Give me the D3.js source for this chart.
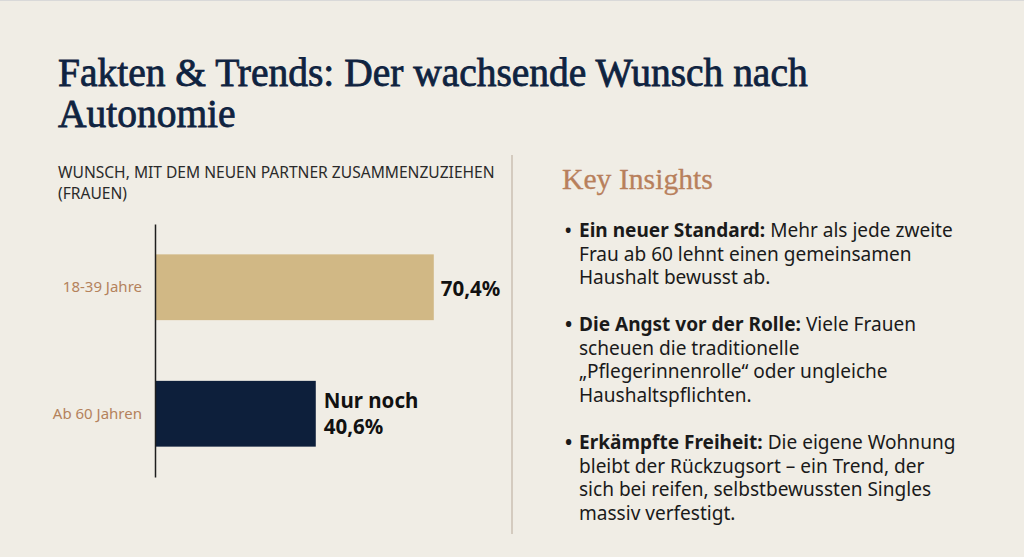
<!DOCTYPE html>
<html lang="de">
<head>
<meta charset="utf-8">
<script src="https://cdn.jsdelivr.net/npm/d3@7"></script>
<style>
  html, body { margin: 0; padding: 0; background: #f0ede5; }
  svg { display: block; }
</style>
</head>
<body>
<div id="chart"></div>
<script>
// data
var titleLines = ["Fakten & Trends: Der wachsende Wunsch nach", "Autonomie"];
var subtitleLines = ["WUNSCH, MIT DEM NEUEN PARTNER ZUSAMMENZUZIEHEN", "(FRAUEN)"];
var categories = ["18-39 Jahre", "Ab 60 Jahren"];
var values = [70.4, 40.6];
var valuePrefix = ["", "Nur noch"];
var barColors = ["#d1b885", "#0d1f3b"];
var insightsTitle = "Key Insights";
var insightHeads = ["Ein neuer Standard:", "Die Angst vor der Rolle:", "Erkämpfte Freiheit:"];
var insightLines = [
  ["Mehr als jede zweite", "Frau ab 60 lehnt einen gemeinsamen", "Haushalt bewusst ab."],
  ["Viele Frauen", "scheuen die traditionelle", "\u201EPflegerinnenrolle\u201C oder ungleiche", "Haushaltspflichten."],
  ["Die eigene Wohnung", "bleibt der R\u00FCckzugsort \u2013 ein Trend, der", "sich bei reifen, selbstbewussten Singles", "massiv verfestigt."]
];

var W = 1024, H = 557;
var serif = "'Liberation Serif', 'DejaVu Serif', serif";
var sans = "'Noto Sans', Lato, sans-serif";

var svg = d3.select("#chart").append("svg")
  .attr("width", W)
  .attr("height", H);

svg.append("rect").attr("width", W).attr("height", H).attr("fill", "#f0ede5");
svg.append("line").attr("x1", 0).attr("x2", W).attr("y1", 0.5).attr("y2", 0.5)
  .attr("stroke", "#d9d9d9").attr("stroke-width", 1);

// scale a text's font size so it spans a given width
function fit(sel, target) {
  var w = sel.node().getComputedTextLength();
  var fs = parseFloat(sel.attr("font-size"));
  sel.attr("font-size", fs * target / w);
  return fs * target / w;
}

// Title
var t1 = svg.append("text")
  .attr("x", 58).attr("y", 86)
  .attr("font-family", serif).attr("font-size", 38)
  .attr("fill", "#0f2340").attr("stroke", "#0f2340").attr("stroke-width", 0.8)
  .text(titleLines[0]);
var titleSize = fit(t1, 750);
svg.append("text")
  .attr("x", 58).attr("y", 127)
  .attr("font-family", serif).attr("font-size", titleSize)
  .attr("fill", "#0f2340").attr("stroke", "#0f2340").attr("stroke-width", 0.8)
  .text(titleLines[1]);

// Subtitle
var s1 = svg.append("text")
  .attr("x", 58).attr("y", 177.5)
  .attr("font-family", sans).attr("font-size", 14)
  .attr("fill", "#2a2a2a")
  .text(subtitleLines[0]);
var subSize = fit(s1, 437);
svg.append("text")
  .attr("x", 58).attr("y", 199)
  .attr("font-family", sans).attr("font-size", subSize)
  .attr("fill", "#2a2a2a")
  .text(subtitleLines[1]);

// Bar chart
var x0 = 155;
var x = d3.scaleLinear().domain([0, 100]).range([0, 396]);
var y = d3.scaleBand().domain(categories).range([224, 477])
  .paddingInner(0.48).paddingOuter(0.24);

var chartGroup = svg.append("g").attr("transform", `translate(${x0}, 0)`);

chartGroup.selectAll("rect.bar")
  .data(values)
  .enter()
  .append("rect")
  .attr("class", "bar")
  .attr("x", 1)
  .attr("y", (d, i) => y(categories[i]))
  .attr("width", d => x(d) - 1)
  .attr("height", y.bandwidth())
  .attr("fill", (d, i) => barColors[i]);

var leftAxis = d3.axisLeft(y).tickSize(0).tickSizeOuter(0).tickPadding(13);
var axisG = chartGroup.append("g").call(leftAxis);
axisG.select(".domain").attr("stroke", "#1e1e1e").attr("stroke-width", 1.5);
axisG.selectAll("text")
  .attr("font-family", sans).attr("font-size", 15)
  .attr("fill", "#b4825c");

// value labels
var labels = chartGroup.selectAll("text.val")
  .data(values)
  .enter()
  .append("text")
  .attr("class", "val")
  .attr("font-family", sans).attr("font-weight", 700).attr("font-size", 20.5)
  .attr("fill", "#111");

labels.each(function(d, i) {
  var el = d3.select(this);
  var cy = y(categories[i]) + y.bandwidth() / 2;
  var txt = d.toFixed(1).replace(".", ",") + "%";
  if (valuePrefix[i]) {
    el.append("tspan").attr("x", x(d) + 8).attr("y", cy - 6).text(valuePrefix[i]);
    el.append("tspan").attr("x", x(d) + 8).attr("y", cy + 20).text(txt);
  } else {
    el.attr("x", x(d) + 7).attr("y", cy + 9).text(txt);
  }
});

// divider
svg.append("line")
  .attr("x1", 512).attr("x2", 512).attr("y1", 155).attr("y2", 534)
  .attr("stroke", "#cbbfb2").attr("stroke-width", 1.5);

// Key Insights
var k = svg.append("text")
  .attr("x", 562).attr("y", 189)
  .attr("font-family", serif).attr("font-size", 29)
  .attr("fill", "#b8805c").attr("stroke", "#b8805c").attr("stroke-width", 0.3)
  .text(insightsTitle);
fit(k, 151);

var lineH = 23.6, blockGap = 23.4;
var yy = 237;
var bodySize = 17;
insightHeads.forEach(function(head, i) {
  svg.append("text")
    .attr("x", 565).attr("y", yy)
    .attr("font-family", sans).attr("font-size", bodySize).attr("font-weight", 700)
    .attr("fill", "#1a1a1a")
    .text("\u2022");
  var first = svg.append("text")
    .attr("x", 579).attr("y", yy)
    .attr("font-family", sans).attr("font-size", bodySize)
    .attr("fill", "#1a1a1a");
  first.append("tspan").attr("font-weight", 700).text(head + " ");
  first.append("tspan").text(insightLines[i][0]);
  if (i === 0) bodySize = fit(first, 374);
  for (var j = 1; j < insightLines[i].length; j++) {
    yy += lineH;
    svg.append("text")
      .attr("x", 579).attr("y", yy)
      .attr("font-family", sans).attr("font-size", bodySize)
      .attr("fill", "#1a1a1a")
      .text(insightLines[i][j]);
  }
  yy += lineH + blockGap;
});
</script>
</body>
</html>
